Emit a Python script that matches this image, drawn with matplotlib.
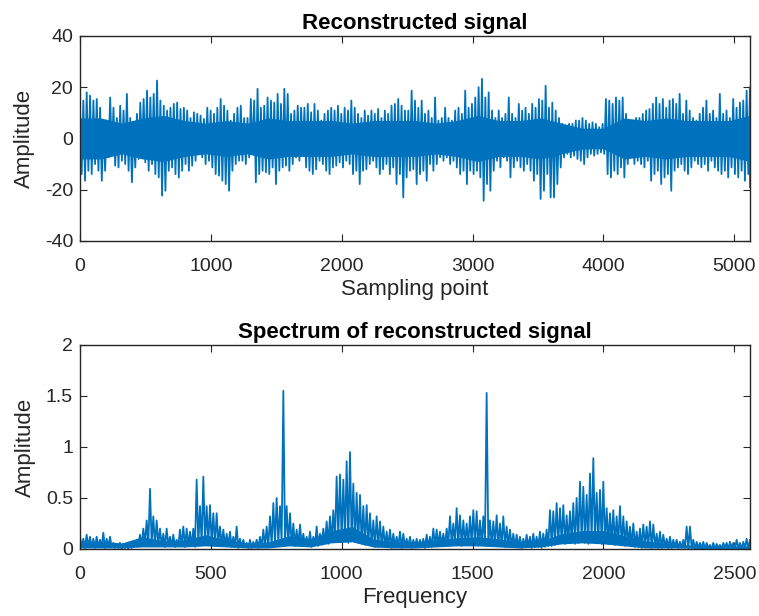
import numpy as np
import matplotlib
matplotlib.use("Agg")
import matplotlib.pyplot as plt

plt.rcParams['font.family'] = ['Liberation Sans', 'DejaVu Sans']
plt.rcParams['axes.unicode_minus'] = False

# reconstructed signal: local peaks/troughs (every ~25 samples)
sig_up = [12, 14.8, 18, 16.7, 14.8, 15.4, 12, 5.7, 7, 16, 12, 8, 12.8, 10.9, 17.4, 8, 4.4, 9.6, 14, 15.4,
          18.7, 16, 17.4, 22.6, 14.8, 12.8, 10.9, 12, 13.5, 14, 11.5, 12, 10.9, 8, 10.2, 9.6, 8.9, 7.6, 12, 10.9,
          9.6, 12, 15.4, 12.8, 10.9, 7, 9.6, 12, 12.8, 8, 8, 15.4, 14.8, 19.4, 12, 12.8, 16, 14.8, 14, 17.4,
          13.5, 19.4, 17.4, 9.6, 10.9, 12.8, 12, 12, 13.5, 10.2, 13.5, 10.9, 7, 9.6, 10.9, 12, 10.9, 12.8, 9.6, 12,
          10.9, 14.8, 12, 9.6, 8, 10.9, 8.9, 10.9, 9.6, 11.5, 8, 10.9, 9.6, 12.8, 13.5, 15.4, 12.8, 10.9, 10.9, 18.7,
          14.8, 12, 14.8,
          9.6, 10.9, 8, 16, 7, 8, 12, 8, 7, 10.9, 12, 9.6, 18.7, 12, 13.5, 16, 20, 23.3, 16,
          18, 10.9, 8, 10.9, 8, 9.6, 16, 9.6, 8, 13.5, 10.9, 12, 9.6, 13.5, 12, 15.4, 14.8, 20.6, 12, 14,
          10.9, 8, 5.7, 4.4, 5.7, 5.7, 7, 7, 8, 7, 5.7, 6.3, 5.7, 4.4, 5.7, 15.4, 14.8, 13.5, 16, 14.8,
          16, 9.6, 4.4, 7, 8, 8, 9.6, 10.9, 11.5, 13.5, 16, 13.5, 15.4, 12, 14.8, 15.4, 13.5, 17.4, 9.6, 14.8,
          10.9, 8, 7, 9.6, 12, 14.8, 9.6, 10.9, 8, 17.4, 9.6, 10.9, 8, 15.4, 12, 14, 14.8, 18.7, 20]
sig_low = [-13.9, -16.5, -12.6, -13.9, -10, -12.6, -16.5, -12.6, -7.4, -6, -10.6, -11.3, -8.7, -10, -12.6, -17.1, -11.3, -8, -6, -9.3,
           -12.6, -10, -13.9, -15.2, -22.3, -20.4, -12.6, -11.3, -13.9, -15.2, -12.6, -10, -12.6, -10.6, -8.7, -6, -7.4, -10, -8.7, -11.3,
           -13.9, -14.5, -16.5, -17.8, -20.4, -12.6, -10, -8.7, -8.7, -10, -7.4, -6, -17.1, -13.9, -12.6, -13.2, -13.9, -11.3, -17.8, -12.6,
           -11.3, -10.6, -12.6, -10, -7.4, -8.7, -6, -11.3, -12.6, -13.9, -12, -8.7, -10, -12.6, -13.9, -11.3, -10.6, -9.3, -11.3, -8.7,
           -10, -13.9, -12.6, -17.8, -12.6, -12, -10, -8.7, -11.3, -13.9, -12, -10, -13.9, -11.3, -17.8, -13.9, -23, -15.2, -12.6, -12,
           -17.8, -13.9, -12.6,
           -16.5, -10, -12.6, -10, -7.4, -8.7, -7.4, -10, -8.7, -11.3, -13.9, -12.6, -17.8, -12.6, -13.9, -12.6, -15.2, -24.3, -17.8,
           -20.4, -12.6, -8.7, -11.3, -7.4, -8.7, -15.2, -11.3, -8.7, -11.3, -12.6, -10, -12.6, -16.5, -13.9, -23.6, -20.4, -13.9, -23, -23,
           -17.8, -11.3, -7.4, -6, -7.4, -6.7, -8, -8.7, -10, -7.4, -6, -6.7, -6, -5.4, -6, -13.9, -15.2, -12.6, -13.9, -11.3,
           -15.2, -10, -7.4, -10, -8.7, -10, -11.3, -8.7, -16.5, -13.9, -12.6, -17.8, -15.2, -13.9, -20.4, -12.6, -11.3, -10, -12.6, -13.9,
           -11.3, -8.7, -10, -11.3, -10, -12.6, -8.7, -11.3, -12.6, -13.9, -12.6, -15.2, -11.3, -13.9, -15.2, -12.6, -16.5, -13.9, -19]
# half width of the dense (solid) part of the trace, every 160 samples
sig_core = [8, 8, 6, 8, 9, 7, 6, 7, 6, 8, 7, 7, 7, 6, 7, 7, 7,
            6, 7, 9, 7, 7, 8, 6, 4, 4, 8, 7, 8, 7, 7, 7, 9]

# spectrum: peaks and troughs every ~12.7 Hz
spec_peak = [0.12, 0.10, 0.14, 0.12, 0.10, 0.12, 0.09, 0.16, 0.10, 0.12, 0.06, 0.05, 0.06, 0.05, 0.04, 0.04, 0.06, 0.09, 0.14, 0.20,
             0.28, 0.59, 0.32, 0.28, 0.20, 0.15, 0.20, 0.12, 0.14, 0.09, 0.19, 0.22, 0.20, 0.17, 0.20, 0.68, 0.42, 0.71, 0.42, 0.43,
             0.35, 0.35, 0.22, 0.19, 0.15, 0.17, 0.12, 0.22, 0.10, 0.09, 0.06, 0.09, 0.07, 0.09, 0.12, 0.19, 0.22, 0.32, 0.45, 0.50,
             0.42, 1.55, 0.42, 0.35, 0.25, 0.19, 0.24, 0.15, 0.12, 0.17, 0.12, 0.22, 0.15, 0.20, 0.27, 0.32, 0.38, 0.71, 0.73, 0.68,
             0.86, 0.95, 0.64, 0.55, 0.53, 0.42, 0.43, 0.35, 0.28, 0.32, 0.27, 0.22, 0.17, 0.19, 0.15, 0.12, 0.17, 0.15, 0.10, 0.12,
             0.09, 0.10, 0.09,
             0.10, 0.14, 0.12, 0.20, 0.19, 0.17, 0.15, 0.20, 0.32, 0.25, 0.40, 0.33, 0.28, 0.25, 0.32, 0.38, 0.37, 0.28, 0.32,
             1.53, 0.28, 0.27, 0.33, 0.25, 0.32, 0.22, 0.19, 0.15, 0.14, 0.12, 0.10, 0.14, 0.12, 0.15, 0.12, 0.17, 0.15, 0.19, 0.38,
             0.37, 0.45, 0.40, 0.43, 0.33, 0.37, 0.45, 0.50, 0.66, 0.61, 0.53, 0.74, 0.89, 0.55, 0.58, 0.66, 0.40, 0.35, 0.38, 0.32,
             0.42, 0.32, 0.27, 0.22, 0.25, 0.17, 0.20, 0.24, 0.22, 0.27, 0.24, 0.15, 0.17, 0.14, 0.10, 0.12, 0.09, 0.09, 0.07, 0.09,
             0.22, 0.22, 0.09, 0.07, 0.06, 0.07, 0.06, 0.04, 0.06, 0.05, 0.04, 0.06, 0.06, 0.07, 0.06, 0.09, 0.06, 0.07, 0.10, 0.09]
spec_low = [0.02, 0.01, 0.02, 0.02, 0.01, 0.02, 0.02, 0.01, 0.02, 0.02, 0.01, 0.01, 0.00, 0.01, 0.00, 0.01,
            0.03, 0.04, 0.04, 0.05, 0.04, 0.05, 0.03, 0.04,
            0.03, 0.02, 0.03, 0.03, 0.02, 0.03, 0.03, 0.02, 0.03, 0.03, 0.02,
            0.04, 0.05, 0.05, 0.06, 0.05, 0.04, 0.05, 0.04, 0.03, 0.03,
            0.02, 0.02, 0.01, 0.02, 0.02, 0.01, 0.01, 0.02, 0.01, 0.02, 0.02, 0.02, 0.03,
            0.04, 0.05, 0.06, 0.05, 0.04, 0.04,
            0.03, 0.03, 0.04, 0.03, 0.03, 0.02, 0.03, 0.03, 0.04, 0.05, 0.05,
            0.07, 0.08, 0.09, 0.07, 0.08, 0.06, 0.08, 0.07, 0.06, 0.05, 0.04, 0.04,
            0.03, 0.02, 0.02, 0.03, 0.02, 0.02, 0.01, 0.02, 0.02, 0.01, 0.02, 0.02, 0.01, 0.02, 0.02, 0.02, 0.01, 0.02, 0.02, 0.03,
            0.03, 0.04, 0.03, 0.04, 0.05, 0.04, 0.04, 0.03, 0.05, 0.04, 0.05, 0.04, 0.03, 0.04, 0.05, 0.04, 0.03, 0.04, 0.03, 0.03,
            0.02, 0.03, 0.02,
            0.02, 0.02, 0.01, 0.02, 0.02, 0.01, 0.02, 0.02, 0.01, 0.02, 0.03, 0.03,
            0.04, 0.05, 0.06, 0.05, 0.06, 0.07, 0.05, 0.06, 0.07, 0.06, 0.05, 0.07, 0.08, 0.06, 0.05, 0.06, 0.05, 0.06, 0.04, 0.05,
            0.04, 0.03, 0.04, 0.03,
            0.02, 0.02, 0.01, 0.02, 0.02, 0.01, 0.02, 0.01, 0.01, 0.02, 0.01, 0.01, 0.02, 0.01, 0.01,
            0.01, 0.00, 0.01, 0.00, 0.01, 0.01, 0.00, 0.01, 0.00, 0.00, 0.01, 0.00, 0.01, 0.00, 0.01, 0.00, 0.01, 0.00, 0.01, 0.00, 0.01]
# dense part of the spectrum trace, every 80 Hz
spec_core_lo = [0.01, 0.01, 0.01, 0.02, 0.02, 0.02, 0.03, 0.02, 0.01, 0.01, 0.03, 0.02, 0.06, 0.07, 0.02, 0.01, 0.01,
                0.02, 0.03, 0.03, 0.02, 0.01, 0.02, 0.05, 0.06, 0.05, 0.03, 0.01, 0.01, 0.01, 0.00, 0.00, 0.00]
spec_core_hi = [0.07, 0.07, 0.06, 0.12, 0.08, 0.09, 0.14, 0.09, 0.06, 0.07, 0.13, 0.10, 0.18, 0.22, 0.10, 0.07, 0.07,
                0.09, 0.11, 0.12, 0.10, 0.07, 0.08, 0.15, 0.18, 0.18, 0.13, 0.08, 0.06, 0.04, 0.03, 0.03, 0.03]

N_SAMPLES = 5120
F_MAX = 2560
BLUE = '#0072BD'
GREY = '#262626'


def zigzag(xmax, hi, lo):
    # alternate each peak with the following trough
    x = np.linspace(0, xmax, len(hi))
    half = x[1] - x[0]
    xs = np.column_stack([x, x + half / 2]).ravel()
    ys = np.column_stack([hi, lo]).ravel()
    return np.clip(xs, 0, xmax), ys


def style_axes(ax):
    for s in ax.spines.values():
        s.set_color(GREY)
        s.set_linewidth(1.0)
    ax.tick_params(direction='in', top=True, right=True, length=5, width=0.8,
                   colors=GREY, labelsize=14, labelcolor=GREY)
    ax.tick_params(axis='x', pad=12)
    ax.tick_params(axis='y', pad=5)


fig = plt.figure(figsize=(7.59, 6.16), dpi=100)
ax1 = fig.add_axes([0.1054, 0.6088, 0.8827, 0.3328])
ax2 = fig.add_axes([0.1054, 0.1088, 0.8827, 0.3312])

# top: time signal
core_x = np.linspace(0, N_SAMPLES, len(sig_core))
core = np.array(sig_core)
ax1.fill_between(core_x, -core, core, color=BLUE, lw=0)
xs, ys = zigzag(N_SAMPLES, sig_up, sig_low)
ax1.plot(xs, ys, color=BLUE, lw=1.3)
ax1.set_xlim(0, N_SAMPLES)
ax1.set_ylim(-40, 40)
ax1.set_xticks([0, 1000, 2000, 3000, 4000, 5000])
ax1.set_yticks([-40, -20, 0, 20, 40])
ax1.set_title('Reconstructed signal', fontsize=16, fontweight='bold', pad=5)
ax1.set_xlabel('Sampling point', fontsize=16, color=GREY, labelpad=3)
ax1.set_ylabel('Amplitude', fontsize=16, color=GREY, labelpad=7)
style_axes(ax1)

# bottom: spectrum
cx = np.linspace(0, F_MAX, len(spec_core_hi))
ax2.fill_between(cx, spec_core_lo, spec_core_hi, color=BLUE, lw=0)
xs, ys = zigzag(F_MAX, spec_peak, spec_low)
ax2.plot(xs, ys, color=BLUE, lw=1.3)
ax2.set_xlim(0, F_MAX)
ax2.set_ylim(0, 2)
ax2.set_xticks([0, 500, 1000, 1500, 2000, 2500])
ax2.set_yticks([0, 0.5, 1, 1.5, 2])
ax2.set_yticklabels(['0', '0.5', '1', '1.5', '2'])
ax2.set_title('Spectrum of reconstructed signal', fontsize=16, fontweight='bold', pad=5)
ax2.set_xlabel('Frequency', fontsize=16, color=GREY, labelpad=3)
ax2.set_ylabel('Amplitude', fontsize=16, color=GREY, labelpad=7)
style_axes(ax2)

fig.savefig('out.png', dpi=100)
